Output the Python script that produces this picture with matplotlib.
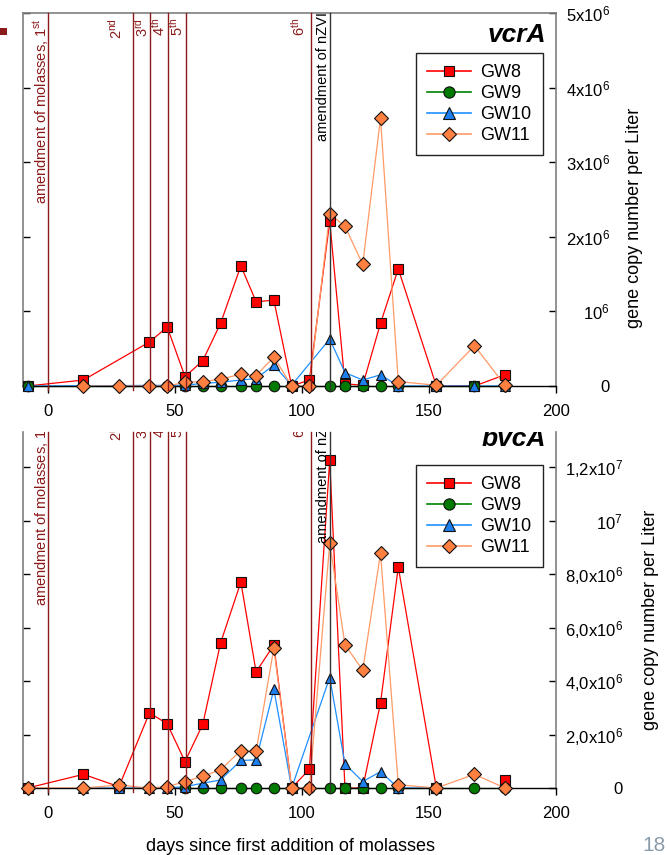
import numpy as np
import matplotlib
matplotlib.use('Agg')
import matplotlib.pyplot as plt
from matplotlib.transforms import offset_copy
from matplotlib.lines import Line2D
from matplotlib.patches import Rectangle

plt.rcParams['font.family'] = ['Liberation Sans', 'DejaVu Sans']
plt.rcParams['mathtext.fontset'] = 'custom'
plt.rcParams['mathtext.rm'] = 'Liberation Sans'
plt.rcParams['mathtext.it'] = 'Liberation Sans:italic'
plt.rcParams['mathtext.bf'] = 'Liberation Sans:bold'

nan = np.nan

# ---------------- data ----------------
days = [-8, 14, 28, 40, 47, 54, 61, 68, 76, 82, 89, 96, 103, 111, 117, 124, 131, 138, 153, 168, 180]
wells = ['GW8', 'GW9', 'GW10', 'GW11']

# vcrA, 10^6 gene copies per liter
vcra_gw8 = [0, 0.08, nan, 0.59, 0.79, 0.125, 0.34, 0.84, 1.61, 1.13, 1.15, 0.0, 0.08, 2.21, 0.03, 0.01, 0.84, 1.57, 0.0, 0.0, 0.15]
vcra_gw9 = [0, nan, nan, nan, 0, 0, 0, 0, 0, 0, 0, 0, 0, 0, 0, 0, 0, 0, 0, 0, 0]
vcra_gw10 = [0, nan, nan, nan, nan, 0.01, 0.035, 0.05, 0.08, 0.1, 0.28, 0.01, nan, 0.63, 0.18, 0.08, 0.15, 0, 0, 0, 0]
vcra_gw11 = [nan, 0, 0, 0, 0, 0.05, 0.06, 0.09, 0.16, 0.14, 0.39, 0.0, 0.0, 2.31, 2.14, 1.63, 3.59, 0.06, 0.01, 0.54, 0.01]

# bvcA, 10^6 gene copies per liter
bvca_gw8 = [0, 0.51, 0.05, 2.81, 2.40, 0.99, 2.38, 5.42, 7.70, 4.34, 5.35, 0, 0.70, 12.26, 0, 0, 3.18, 8.26, 0, nan, 0.3]
bvca_gw9 = [nan, nan, nan, nan, nan, 0, 0, 0, 0, 0, 0, 0, 0, 0, 0, 0, 0, 0, 0, 0, 0]
bvca_gw10 = [nan, 0, 0, 0, 0, 0.05, 0.18, 0.3, 1.03, 1.05, 3.69, 0, nan, 4.13, 0.9, 0.24, 0.61, 0, 0, nan, nan]
bvca_gw11 = [0, 0, 0.11, 0, 0.05, 0.24, 0.44, 0.68, 1.4, 1.37, 5.23, 0, 0, 9.16, 5.36, 4.4, 8.78, 0.12, 0, 0.51, 0]

# line is interrupted before these days (no connecting segment)
bvca_gw8_breaks = [180]

molasses_days = [0, 33.5, 40.4, 47.3, 54.5, 103.6]
molasses_labels = ['amendment of molasses, 1$^{\\mathrm{st}}$', '2$^{\\mathrm{nd}}$', '3$^{\\mathrm{rd}}$',
                   '4$^{\\mathrm{th}}$', '5$^{\\mathrm{th}}$', '6$^{\\mathrm{th}}$']
nzvi_day = 111
nzvi_label = 'amendment of nZVI'

vcra_ticks = [0, 1e6, 2e6, 3e6, 4e6, 5e6]
vcra_ticklabels = ['0', '10$^{6}$', '2x10$^{6}$', '3x10$^{6}$', '4x10$^{6}$', '5x10$^{6}$']
bvca_ticks = [0, 2e6, 4e6, 6e6, 8e6, 1e7, 1.2e7]
bvca_ticklabels = ['0', '2,0x10$^{6}$', '4,0x10$^{6}$', '6,0x10$^{6}$', '8,0x10$^{6}$', '10$^{7}$', '1,2x10$^{7}$']
x_ticks = [0, 50, 100, 150, 200]

# ---------------- style ----------------
styles = {
    'GW8': dict(color='#FF0000', marker='s', mfc='#FF0000', ms=7.2),
    'GW9': dict(color='#008000', marker='o', mfc='#007A00', ms=7.6),
    'GW10': dict(color='#1E8FFF', marker='^', mfc='#1E80EE', ms=7.6),
    'GW11': dict(color='#FF9A66', marker='D', mfc='#FF8040', ms=6.7),
}
VLINE = '#8B1A1A'

W, H = 667, 855
fig = plt.figure(figsize=(W / 100, H / 100), dpi=100)


def px_axes(l, t, r, b):
    return [l / W, 1 - b / H, (r - l) / W, (b - t) / H]


ax1 = fig.add_axes(px_axes(22.5, 13, 555.7, 386))
ax2 = fig.add_axes(px_axes(22.5, 432, 555.7, 788))


def draw_panel(ax, series, breaks, ylim, ticks, ticklabels, title, shift_px, title_shift,
               tick_pad, ylab_x, ylab_y, legend_anchor, top_spine):
    x = np.array(days, dtype=float)
    for z, (well, vals) in enumerate(zip(wells, series)):
        st = styles[well]
        y = np.array(vals, dtype=float) * 1e6
        m = np.isfinite(y)
        xs, ys = x[m], y[m]
        idx = [0]
        for i in range(1, len(xs)):
            if xs[i] in breaks.get(well, []):
                idx.append(i)
        idx.append(len(xs))
        for a, b in zip(idx[:-1], idx[1:]):
            ax.plot(xs[a:b], ys[a:b], color=st['color'], lw=0.9, zorder=2 + z * 0.1, clip_on=False)
        ax.plot(xs, ys, ls='none', marker=st['marker'], ms=st['ms'], mfc=st['mfc'], mec='#111111',
                mew=0.8, zorder=4 + z * 0.1, clip_on=False)

    ax.set_xlim(-10, 200)
    ax.set_ylim(*ylim)
    ax.set_xticks(x_ticks)
    ax.tick_params(axis='x', direction='out', length=5, width=1, pad=8, labelsize=12)
    ax.set_yticks(ticks)
    ax.set_yticklabels(ticklabels)
    ax.tick_params(axis='y', left=True, right=True, labelleft=False, labelright=True,
                   direction='in', length=5, width=1, labelsize=12, pad=tick_pad)
    for t in ax.yaxis.get_major_ticks():
        t.label2.set_horizontalalignment('right')

    for s in ['left', 'right', 'top']:
        ax.spines[s].set_color('#7f7f7f')
        ax.spines[s].set_linewidth(1.2)
    ax.spines['bottom'].set_color('black')
    ax.spines['bottom'].set_linewidth(1.0)
    ax.spines['top'].set_visible(top_spine)

    # vertical event lines
    offs = [-1, -11.5, -3, -3, -4, -6.5]
    for d, lab, o in zip(molasses_days, molasses_labels, offs):
        ax.axvline(d, color=VLINE, lw=1.0, ymin=-0.012, zorder=6, clip_on=False)
        tr = offset_copy(ax.get_xaxis_transform(), fig=fig, x=o, y=-5 + shift_px, units='dots')
        ax.text(d, 1, lab, transform=tr, rotation=90, rotation_mode='anchor', ha='right',
                va='baseline', fontsize=10.5, color=VLINE, clip_on=True, zorder=7)
    ax.axvline(nzvi_day, color='#333333', lw=1.0, ymin=-0.012, zorder=6, clip_on=False)
    tr = offset_copy(ax.get_xaxis_transform(), fig=fig, x=-2.7, y=1 + shift_px, units='dots')
    ax.text(nzvi_day, 1, nzvi_label, transform=tr, rotation=90, rotation_mode='anchor', ha='right',
            va='baseline', fontsize=10.5, color='black', clip_on=True, zorder=7)

    # title
    tr = offset_copy(ax.transAxes, fig=fig, x=-10, y=-29 + title_shift, units='dots')
    ax.text(1, 1, title, transform=tr, ha='right', va='baseline', fontsize=19,
            fontweight='bold', fontstyle='italic', clip_on=True, zorder=8)

    ax.text(ylab_x, ylab_y, 'gene copy number per Liter', transform=ax.transAxes, rotation=90,
            ha='center', va='center', fontsize=13)

    handles = [Line2D([], [], color=styles[w]['color'], lw=1.2, marker=styles[w]['marker'],
                      ms=styles[w]['ms'] + 0.5, mfc=styles[w]['mfc'], mec='#111111', mew=0.8)
               for w in wells]
    leg = ax.legend(handles, wells, loc='upper right', bbox_to_anchor=legend_anchor,
                    fancybox=False, edgecolor='#222222', fontsize=13, handlelength=2.4,
                    labelspacing=0.22, borderpad=0.62, handletextpad=0.55, borderaxespad=0,
                    framealpha=1)
    leg.get_frame().set_linewidth(1.0)
    leg.set_zorder(10)


draw_panel(ax1, [vcra_gw8, vcra_gw9, vcra_gw10, vcra_gw11], {}, (0, 5e6), vcra_ticks,
           vcra_ticklabels, 'vcrA', 0, 0, 39, 1.147, 0.45, (0.976, 0.893), True)
draw_panel(ax2, [bvca_gw8, bvca_gw9, bvca_gw10, bvca_gw11], {'GW8': bvca_gw8_breaks},
           (0, 13.31e6), bvca_ticks, bvca_ticklabels, 'bvcA', 17, 15, 48.5, 1.177, 0.472,
           (0.976, 0.907), False)

fig.text(290 / W, 1 - 846 / H, 'days since first addition of molasses', ha='center', va='center',
         fontsize=13)
fig.text(642 / W, 1 - 836 / H, '18', ha='left', va='top', fontsize=15, color='#8C9BAA')
fig.add_artist(Rectangle((0, 1 - 35 / H), 7 / W, 7 / H, transform=fig.transFigure,
                         color='#8B1A1A', lw=0))

fig.savefig('out.png', dpi=100)
